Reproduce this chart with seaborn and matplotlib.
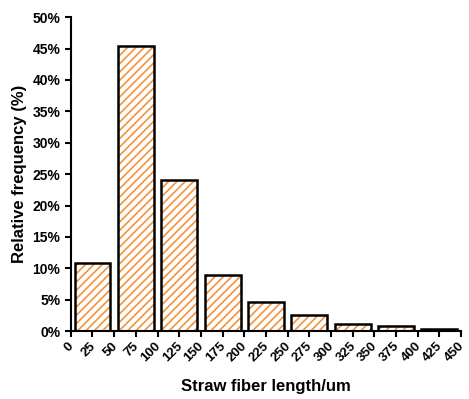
import numpy as np
import matplotlib
matplotlib.use('Agg')
import matplotlib.pyplot as plt
import matplotlib.transforms as mtransforms
import seaborn as sns
from matplotlib.ticker import FuncFormatter, MultipleLocator

# bin centres (um) and relative frequency (%)
lengths = [25, 75, 125, 175, 225, 275, 325, 375, 425]
freq = [10.8, 45.4, 24.1, 8.9, 4.6, 2.5, 1.1, 0.9, 0.4]
bin_edges = list(range(0, 475, 50))
tick_values = list(range(0, 475, 25))

sns.set_style('ticks')
plt.rcParams['font.family'] = ['Liberation Sans', 'DejaVu Sans']
plt.rcParams['font.weight'] = 'bold'
plt.rcParams['hatch.linewidth'] = 1.2
for k in ['text.color', 'axes.labelcolor', 'xtick.color', 'ytick.color', 'axes.edgecolor']:
    plt.rcParams[k] = 'black'

fig = plt.figure(figsize=(4.69, 3.99), dpi=100)
ax = fig.add_axes([0.151, 0.170, 0.832, 0.787])

# hatched fill (orange lines on white)
sns.histplot(x=lengths, weights=freq, bins=bin_edges, shrink=0.83,
             color='white', edgecolor='#f4923a', linewidth=0, alpha=1,
             ax=ax)
for p in ax.patches:
    p.set_hatch('////')
    p.set_facecolor('white')
# black outline on top
sns.histplot(x=lengths, weights=freq, bins=bin_edges, shrink=0.83,
             fill=False, color='black', edgecolor='black', linewidth=1.8, ax=ax)

ax.set_xlim(0, 450)
ax.set_ylim(0, 50)
ax.set_xticks(tick_values)
ax.set_xticklabels([])
# rotated x tick labels, nudged so the right end sits just past the tick
lbl_tr = ax.get_xaxis_transform() + mtransforms.ScaledTranslation(
    5.5 / 100, -9 / 100, fig.dpi_scale_trans)
for v in tick_values:
    ax.text(v, 0, str(v), rotation=45, ha='right', va='top', fontsize=9.5,
            fontweight='bold', transform=lbl_tr)

ax.yaxis.set_major_locator(MultipleLocator(5))
ax.yaxis.set_major_formatter(FuncFormatter(lambda v, _: f'{v:.0f}%'))
ax.tick_params(axis='y', labelsize=10, width=1.5, length=4)
ax.tick_params(axis='x', width=1.5, length=4)
for s in ['left', 'bottom']:
    ax.spines[s].set_linewidth(1.5)
sns.despine(ax=ax)

ax.set_xlabel('Straw fiber length/um', fontsize=12, fontweight='bold', labelpad=27)
ax.set_ylabel('Relative frequency (%)', fontsize=12, fontweight='bold')

fig.savefig('out.png', dpi=100)
